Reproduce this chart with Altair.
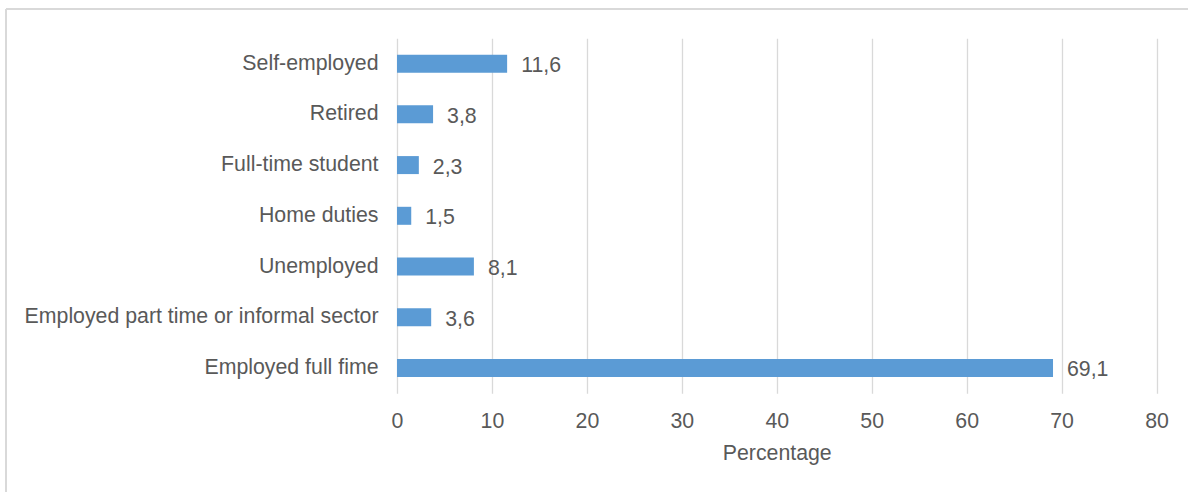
import altair as alt
import pandas as pd

categories = [
    "Self-employed",
    "Retired",
    "Full-time student",
    "Home duties",
    "Unemployed",
    "Employed part time or informal sector",
    "Employed full fime",
]
values = [11.6, 3.8, 2.3, 1.5, 8.1, 3.6, 69.1]
x_ticks = [0, 10, 20, 30, 40, 50, 60, 70, 80]

df = pd.DataFrame({
    "Category": categories,
    "Value": values,
    "Label": [f"{v:.1f}".replace(".", ",") for v in values],
})

FONT = "Liberation Sans"
TXT = "#595959"
GRID = "#d9d9d9"
FS = 21.3

x_enc = alt.X(
    "Value:Q",
    scale=alt.Scale(domain=[0, 80], nice=False),
    axis=alt.Axis(
        values=x_ticks,
        title="Percentage",
        grid=True,
        gridColor=GRID,
        gridWidth=1.3,
        domain=False,
        ticks=False,
        labelFlush=False,
        labelPadding=17,
        labelFont=FONT,
        labelFontSize=FS,
        labelColor=TXT,
        titleFont=FONT,
        titleFontSize=FS,
        titleFontWeight="normal",
        titleColor=TXT,
        titleBaseline="alphabetic",
        titleY=66,
    ),
)
y_enc = alt.Y(
    "Category:N",
    sort=categories,
    axis=alt.Axis(
        title=None,
        domain=False,
        ticks=False,
        grid=False,
        labelPadding=19,
        labelFont=FONT,
        labelFontSize=FS,
        labelColor=TXT,
        labelLimit=600,
    ),
)

bars = alt.Chart(df).mark_bar(size=18, color="#5B9BD5").encode(x=x_enc, y=y_enc)

labels = alt.Chart(df).mark_text(
    align="left", baseline="middle", dx=14, dy=2.5,
    font=FONT, fontSize=FS, color=TXT,
).encode(x="Value:Q", y=alt.Y("Category:N", sort=categories), text="Label:N")

border_left = alt.Chart(df).mark_rule(color=GRID, strokeWidth=1.5).encode(
    x=alt.value(-391), y=alt.value(-29.3), y2=alt.value(460)
)
border_top = alt.Chart(df).mark_rule(color=GRID, strokeWidth=1.5).encode(
    x=alt.value(-391), x2=alt.value(800), y=alt.value(-29.3)
)

chart = alt.layer(border_left, border_top, bars, labels).properties(
    width=759.5,
    height=355,
    autosize=alt.AutoSizeParams(type="none"),
    padding={"left": 397, "top": 38.3, "right": 31.5, "bottom": 98.7},
    background="white",
).configure_view(stroke=None, strokeWidth=0)

chart.save("out.html", embed_options={"renderer": "svg", "actions": False})
